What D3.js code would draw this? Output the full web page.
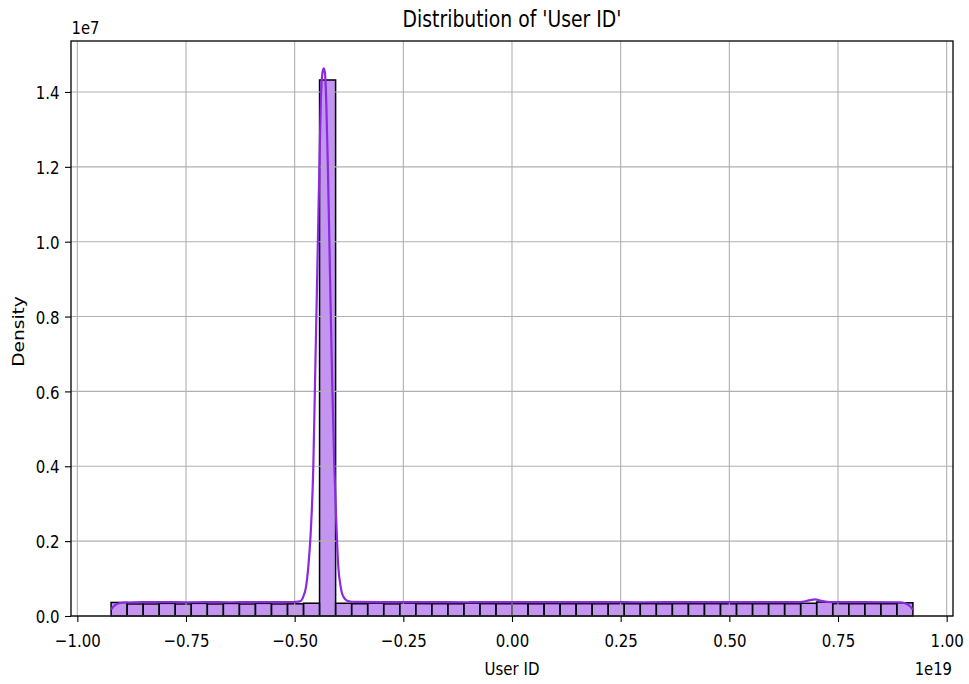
<!DOCTYPE html>
<html>
<head>
<meta charset="utf-8">
<script src="https://cdn.jsdelivr.net/npm/d3@7"></script>
<style>
  html, body { margin: 0; padding: 0; background: #fff; }
  svg { display: block; }
  text { font-family: "DejaVu Sans", sans-serif; fill: #000; }
</style>
</head>
<body>
<svg id="chart" width="969" height="684"></svg>
<script>
// User ID values span the full signed 64-bit range, split into 50 equal bins
const X_MIN = -9.223372e18;
const X_MAX = 9.223372e18;
const BIN_COUNT = 50;

// Histogram density per bin (left to right)
const binDensities = [
  3.62e5, 3.22e5, 3.22e5, 3.38e5, 3.22e5, 3.38e5, 3.22e5, 3.36e5, 3.22e5, 3.38e5,
  3.22e5, 3.26e5, 3.42e5, 1.432e7, 3.40e5, 3.28e5, 3.44e5, 3.24e5, 3.44e5, 3.30e5,
  3.28e5, 3.26e5, 3.44e5, 3.30e5, 3.28e5, 3.30e5, 3.26e5, 3.32e5, 3.28e5, 3.30e5,
  3.26e5, 3.30e5, 3.28e5, 3.30e5, 3.26e5, 3.30e5, 3.28e5, 3.30e5, 3.26e5, 3.30e5,
  3.28e5, 3.30e5, 3.28e5, 3.40e5, 3.74e5, 3.30e5, 3.28e5, 3.30e5, 3.28e5, 3.52e5
];

// Kernel density estimate, sampled along User ID
const kdeX = [
  -0.9223e19, -0.9180e19, -0.9120e19, -0.9040e19, -0.8900e19, -0.8500e19, -0.8000e19,
  -0.7500e19, -0.7000e19, -0.6500e19, -0.6000e19, -0.5500e19, -0.5100e19, -0.4969e19,
  -0.4877e19, -0.4801e19, -0.4739e19, -0.4686e19, -0.4631e19, -0.4571e19, -0.4532e19,
  -0.4493e19, -0.4456e19, -0.4424e19, -0.4394e19, -0.4362e19, -0.4332e19, -0.4302e19,
  -0.4270e19, -0.4240e19, -0.4205e19, -0.4171e19, -0.4134e19, -0.4088e19, -0.4033e19,
  -0.3996e19, -0.3941e19, -0.3881e19, -0.3773e19, -0.3612e19, -0.3000e19, -0.2000e19,
  -0.1000e19, 0.0000e19, 0.1000e19, 0.2000e19, 0.3000e19, 0.4000e19, 0.5000e19,
  0.6000e19, 0.6625e19, 0.6809e19, 0.6970e19, 0.7132e19, 0.7315e19, 0.8000e19,
  0.8926e19, 0.9040e19, 0.9156e19, 0.9223e19
];
const kdeDensity = [
  1.7e5, 2.4e5, 3.0e5, 3.4e5, 3.6e5, 3.7e5, 3.7e5,
  3.68e5, 3.7e5, 3.68e5, 3.7e5, 3.7e5, 3.7e5, 3.75e5,
  3.9e5, 5.2e5, 7.8e5, 1.32e6, 2.22e6, 3.99e6, 6.22e6,
  8.44e6, 1.06e7, 1.245e7, 1.39e7, 1.45e7, 1.463e7, 1.45e7,
  1.36e7, 1.22e7, 1.02e7, 8.2e6, 6.1e6, 3.99e6, 2.22e6,
  1.32e6, 7.8e5, 5.2e5, 4.0e5, 3.75e5, 3.7e5, 3.7e5,
  3.68e5, 3.7e5, 3.7e5, 3.7e5, 3.68e5, 3.7e5, 3.7e5,
  3.7e5, 3.72e5, 4.1e5, 4.45e5, 4.05e5, 3.72e5, 3.7e5,
  3.68e5, 3.4e5, 2.6e5, 1.7e5
];

// Axis ticks and their labels
const xTickValues = [-1e19, -0.75e19, -0.5e19, -0.25e19, 0, 0.25e19, 0.5e19, 0.75e19, 1e19];
const xTickLabels = ["−1.00", "−0.75", "−0.50", "−0.25", "0.00", "0.25", "0.50", "0.75", "1.00"];
const yTickValues = [0, 0.2e7, 0.4e7, 0.6e7, 0.8e7, 1.0e7, 1.2e7, 1.4e7];
const yTickLabels = ["0.0", "0.2", "0.4", "0.6", "0.8", "1.0", "1.2", "1.4"];

const TITLE = "Distribution of 'User ID'";
const X_LABEL = "User ID";
const Y_LABEL = "Density";
const X_OFFSET_TEXT = "1e19";
const Y_OFFSET_TEXT = "1e7";

// ---- layout ----
const plot = { left: 71, right: 953, top: 41, bottom: 616 };
const STRETCH = 1.2;           // glyphs are taller than they are wide
const BAR_COLOR = "#8a2be2";
const GRID_COLOR = "#b0b0b0";

const svg = d3.select("#chart");

const pad = 0.05 * (X_MAX - X_MIN);
const x = d3.scaleLinear()
  .domain([X_MIN - pad, X_MAX + pad])
  .range([plot.left, plot.right]);

const yMax = 1.05 * Math.max(d3.max(binDensities), d3.max(kdeDensity));
const y = d3.scaleLinear()
  .domain([0, yMax])
  .range([plot.bottom, plot.top]);

const binEdges = d3.range(BIN_COUNT + 1).map(i => X_MIN + i * (X_MAX - X_MIN) / BIN_COUNT);
const bins = binDensities.map((d, i) => ({ x0: binEdges[i], x1: binEdges[i + 1], density: d }));

// histogram bars
svg.append("g")
  .selectAll("rect")
  .data(bins)
  .join("rect")
  .attr("x", d => x(d.x0))
  .attr("y", d => y(d.density))
  .attr("width", d => x(d.x1) - x(d.x0))
  .attr("height", d => y(0) - y(d.density))
  .attr("fill", BAR_COLOR)
  .attr("fill-opacity", 0.5)
  .attr("stroke", "#000")
  .attr("stroke-width", 1.5);

// grid sits above the bars but below the density curve
const grid = svg.append("g")
  .attr("stroke", GRID_COLOR)
  .attr("stroke-width", 1.1);
grid.selectAll("line.vx")
  .data(xTickValues)
  .join("line")
  .attr("class", "vx")
  .attr("x1", d => x(d)).attr("x2", d => x(d))
  .attr("y1", plot.top).attr("y2", plot.bottom);
grid.selectAll("line.hy")
  .data(yTickValues)
  .join("line")
  .attr("class", "hy")
  .attr("x1", plot.left).attr("x2", plot.right)
  .attr("y1", d => y(d)).attr("y2", d => y(d));

// density curve
const kdePoints = kdeX.map((v, i) => [v, kdeDensity[i]]);
svg.append("path")
  .datum(kdePoints)
  .attr("fill", "none")
  .attr("stroke", BAR_COLOR)
  .attr("stroke-width", 2.2)
  .attr("stroke-linejoin", "round")
  .attr("d", d3.line()
    .x(d => x(d[0]))
    .y(d => y(d[1]))
    .curve(d3.curveMonotoneX));

// axes (ticks + labels) via d3 axis generators
const xAxis = d3.axisBottom(x)
  .tickValues(xTickValues)
  .tickSize(6)
  .tickPadding(0)
  .tickFormat((d, i) => xTickLabels[i]);
const gx = svg.append("g")
  .attr("transform", `translate(0,${plot.bottom})`)
  .call(xAxis);
gx.select(".domain").remove();
gx.selectAll(".tick line").attr("stroke", "#000").attr("stroke-width", 1.1);
gx.selectAll(".tick text")
  .attr("y", null).attr("dy", null)
  .attr("font-size", 15)
  .attr("font-family", "DejaVu Sans, sans-serif")
  .attr("fill", "#000")
  .attr("transform", `translate(0,31) scale(1,${STRETCH})`);

const yAxis = d3.axisLeft(y)
  .tickValues(yTickValues)
  .tickSize(6)
  .tickPadding(0)
  .tickFormat((d, i) => yTickLabels[i]);
const gy = svg.append("g")
  .attr("transform", `translate(${plot.left},0)`)
  .call(yAxis);
gy.select(".domain").remove();
gy.selectAll(".tick line").attr("stroke", "#000").attr("stroke-width", 1.1);
gy.selectAll(".tick text")
  .attr("x", null).attr("dy", null)
  .attr("text-anchor", "end")
  .attr("font-size", 15)
  .attr("font-family", "DejaVu Sans, sans-serif")
  .attr("fill", "#000")
  .attr("transform", `translate(-11.5,6.6) scale(1,${STRETCH})`);

// frame
svg.append("rect")
  .attr("x", plot.left).attr("y", plot.top)
  .attr("width", plot.right - plot.left)
  .attr("height", plot.bottom - plot.top)
  .attr("fill", "none")
  .attr("stroke", "#000")
  .attr("stroke-width", 1.3);

// title, axis labels and offset texts
const cx = (plot.left + plot.right) / 2;
svg.append("text")
  .attr("text-anchor", "middle")
  .attr("font-size", 18.8)
  .attr("transform", `translate(${cx},27.3) scale(1,${STRETCH})`)
  .text(TITLE);

svg.append("text")
  .attr("text-anchor", "middle")
  .attr("font-size", 15)
  .attr("transform", `translate(${cx},675) scale(1,${STRETCH})`)
  .text(X_LABEL);

svg.append("text")
  .attr("text-anchor", "middle")
  .attr("font-size", 15.5)
  .attr("transform", `translate(23.5,${(plot.top + plot.bottom) / 2 + 3}) rotate(-90) scale(${STRETCH},1)`)
  .text(Y_LABEL);

svg.append("text")
  .attr("text-anchor", "start")
  .attr("font-size", 14.8)
  .attr("transform", `translate(${plot.left + 0.5},34.3) scale(1,${STRETCH})`)
  .text(Y_OFFSET_TEXT);

svg.append("text")
  .attr("text-anchor", "end")
  .attr("font-size", 14.8)
  .attr("transform", `translate(${plot.right - 1},675) scale(1,${STRETCH})`)
  .text(X_OFFSET_TEXT);
</script>
</body>
</html>
